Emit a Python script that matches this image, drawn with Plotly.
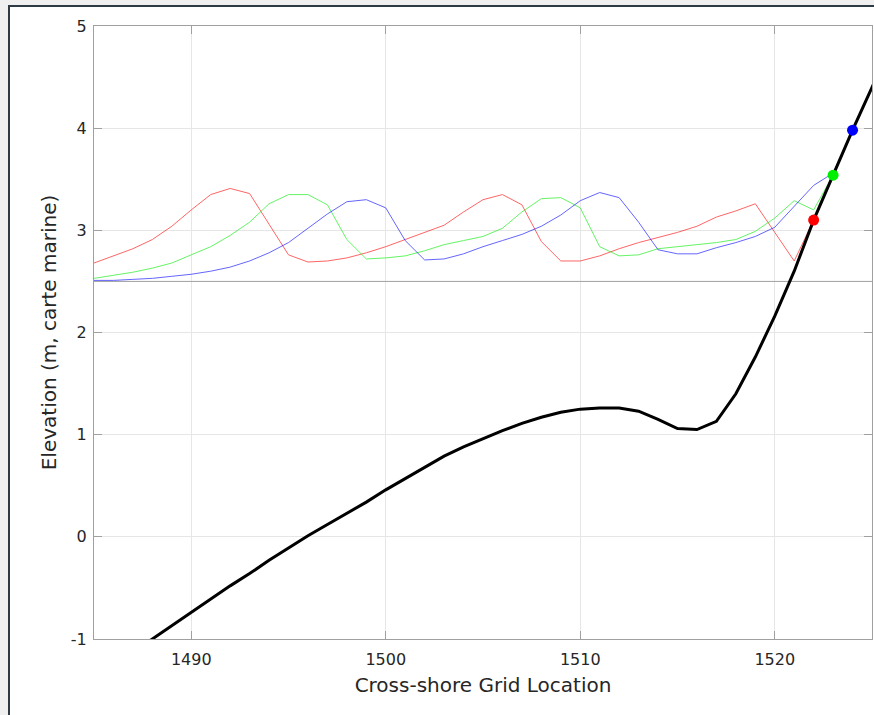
import plotly.graph_objects as go

# ---- data ----
x_red = list(range(1485, 1523))
y_red = [2.68, 2.75, 2.82, 2.91, 3.04, 3.20, 3.35, 3.41, 3.36, 3.06,
         2.76, 2.69, 2.70, 2.73, 2.78, 2.84, 2.91, 2.98, 3.05, 3.18,
         3.30, 3.35, 3.25, 2.89, 2.70, 2.70, 2.75, 2.82, 2.88, 2.93,
         2.98, 3.04, 3.13, 3.19, 3.26, 2.98, 2.70, 3.10]

x_green = list(range(1485, 1524))
y_green = [2.53, 2.56, 2.59, 2.63, 2.68, 2.76, 2.84, 2.95, 3.08, 3.26,
           3.35, 3.35, 3.25, 2.91, 2.72, 2.73, 2.75, 2.80, 2.86, 2.90,
           2.94, 3.02, 3.18, 3.31, 3.32, 3.22, 2.84, 2.75, 2.76, 2.82,
           2.84, 2.86, 2.88, 2.91, 2.99, 3.12, 3.29, 3.20, 3.54]

x_blue = list(range(1485, 1525))
y_blue = [2.51, 2.51, 2.52, 2.53, 2.55, 2.57, 2.60, 2.64, 2.70, 2.78,
          2.88, 3.02, 3.16, 3.28, 3.30, 3.22, 2.90, 2.71, 2.72, 2.77,
          2.84, 2.90, 2.96, 3.04, 3.15, 3.29, 3.37, 3.32, 3.08, 2.81,
          2.77, 2.77, 2.83, 2.88, 2.94, 3.03, 3.23, 3.44, 3.56, 3.98]

x_profile = list(range(1487, 1527))
y_profile = [-1.13, -1.00, -0.87, -0.74, -0.61, -0.48, -0.36, -0.23, -0.11, 0.01,
             0.12, 0.23, 0.34, 0.46, 0.57, 0.68, 0.79, 0.88, 0.96, 1.04,
             1.11, 1.17, 1.22, 1.25, 1.26, 1.26, 1.23, 1.15, 1.06, 1.05,
             1.13, 1.40, 1.76, 2.16, 2.60, 3.10, 3.54, 3.98, 4.40, 4.82]

water_level = 2.5
x_range = [1485, 1525]
y_range = [-1, 5]
x_ticks = [1490, 1500, 1510, 1520]
y_ticks = [-1, 0, 1, 2, 3, 4, 5]
y_ticktext = ["-1", "0", "1", "2", "3", "4", "5"]

series = [
    ("red", x_red, y_red),
    ("#00ee00", x_green, y_green),
    ("blue", x_blue, y_blue),
]

fig = go.Figure()

fig.add_trace(go.Scatter(x=x_range, y=[water_level, water_level], mode="lines",
                         line=dict(color="#a0a0a0", width=1), showlegend=False,
                         hoverinfo="skip"))

for col, xs, ys in series:
    fig.add_trace(go.Scatter(x=xs, y=ys, mode="lines",
                             line=dict(color=col, width=1), opacity=0.6,
                             showlegend=False))

fig.add_trace(go.Scatter(x=x_profile, y=y_profile, mode="lines",
                         line=dict(color="black", width=3), showlegend=False))

for col, xs, ys in series:
    fig.add_trace(go.Scatter(x=[xs[-1]], y=[ys[-1]], mode="markers",
                             marker=dict(color=col, size=11), showlegend=False,
                             cliponaxis=False))

# figure fills the page from (0, 0)
W, H = 874, 715
L, R, T, B = 94, 2, 26, 76
pw, ph = W - L - R, H - T - B

def px(x):
    return (x - L) / pw

def py(y):
    return (H - B - y) / ph

fig.add_shape(type="rect", xref="paper", yref="paper",
              x0=px(9), x1=px(W + 10), y0=py(H + 10), y1=py(6),
              fillcolor="white", line=dict(color="#2e3b44", width=2),
              layer="below")

axis_common = dict(
    showgrid=True, gridcolor="#e6e6e6", gridwidth=1,
    showline=True, linecolor="#a0a0a0", linewidth=1, mirror="ticks",
    ticks="inside", ticklen=8, tickcolor="#a0a0a0", tickwidth=1,
    zeroline=False,
    tickfont=dict(family="DejaVu Sans", size=16, color="#262626"),
)

fig.update_xaxes(range=x_range, tickvals=x_ticks, ticklabelstandoff=6,
                 title=dict(text="Cross-shore Grid Location",
                            font=dict(family="DejaVu Sans", size=20, color="#262626"),
                            standoff=9),
                 **axis_common)
fig.update_yaxes(range=y_range, tickvals=y_ticks, ticktext=y_ticktext,
                 ticklabelstandoff=3,
                 title=dict(text="Elevation (m, carte marine)",
                            font=dict(family="DejaVu Sans", size=20, color="#262626"),
                            standoff=8),
                 **axis_common)

fig.update_layout(
    autosize=False,
    width=W, height=H,
    margin=dict(l=L, r=R, t=T, b=B, autoexpand=False),
    paper_bgcolor="#f0f0f0", plot_bgcolor="white",
    font=dict(family="DejaVu Sans", color="#262626"),
)

page_js = ("document.body.style.margin='0';"
           "document.body.style.overflow='hidden';"
           "document.body.style.background='#f0f0f0';")

fig.write_html("out.html", post_script=page_js,
               config={"displayModeBar": False})
